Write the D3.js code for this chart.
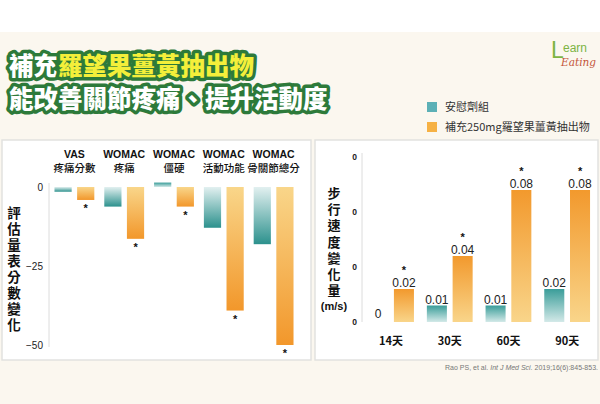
<!DOCTYPE html>
<html><head><meta charset="utf-8">
<script src="https://cdn.jsdelivr.net/npm/d3@7"></script>
<style>body{margin:0;background:#fff} svg{display:block}</style>
</head><body><svg id="c" width="600" height="404"></svg>
<script>
// ---------- data ----------
const titleWhite = "補充";
const titleYellow = "羅望果薑黃抽出物";
const titleLine2 = "能改善關節疼痛、提升活動度";
const legendLabels = ["安慰劑組", "補充250mg羅望果薑黃抽出物"];
const series = ["placebo", "treatment"];

const scoreCatTop = ["VAS", "WOMAC", "WOMAC", "WOMAC", "WOMAC"];
const scoreCatBottom = ["疼痛分數", "疼痛", "僵硬", "活動功能", "骨關節總分"];
const scorePlacebo = [-1.5, -6.2, 1.4, -12.9, -18.1];
const scoreTreatment = [-4.1, -16.4, -6.2, -39.1, -50];
const scoreTicks = [0, -25, -50];
const scoreAxisTitle = "評估量表分數變化";

const speedCats = ["14天", "30天", "60天", "90天"];
const speedPlacebo = [0, 0.01, 0.01, 0.02];
const speedTreatment = [0.02, 0.04, 0.08, 0.08];
const speedTicks = [0, 0.1 / 3, 0.2 / 3, 0.1];
const speedTickLabels = ["0", "0", "0", "0"];
const speedAxisTitle = "步行速度變化量";
const speedAxisUnit = "(m/s)";

const citationA = "Rao PS, et al. ";
const citationB = "Int J Med Sci.";
const citationC = " 2019;16(6):845-853.";

// ---------- drawing ----------
const svg = d3.select("#c");
const CJK = "'Noto Sans CJK TC','Noto Sans CJK SC',sans-serif";
const LAT = "'Liberation Sans',Arial,'Noto Sans CJK TC',sans-serif";

svg.append("rect").attr("width", 600).attr("height", 404).attr("fill", "#fbf7ef");
svg.append("rect").attr("width", 600).attr("height", 32).attr("fill", "#ffffff");

const defs = svg.append("defs");
function grad(id, c1, c2) {
  const g = defs.append("linearGradient").attr("id", id)
    .attr("x1", 0).attr("y1", 0).attr("x2", 0).attr("y2", 1);
  g.append("stop").attr("offset", "0%").attr("stop-color", c1);
  g.append("stop").attr("offset", "100%").attr("stop-color", c2);
}
grad("tealDown", "#e2f0f0", "#2c918d");
grad("tealUp", "#3a9d99", "#d3e9e8");
grad("orangeDown", "#f9d68a", "#f2972b");
grad("orangeUp", "#f2992d", "#f9d58a");

// title
const title = svg.append("g").attr("font-family", CJK).attr("font-weight", 900)
  .attr("font-size", 24.5).attr("stroke", "#2d7a3a").attr("stroke-width", 7)
  .attr("stroke-linejoin", "round").attr("paint-order", "stroke");
const t1 = title.append("text").attr("x", 9).attr("y", 75);
t1.append("tspan").attr("fill", "#ffffff").text(titleWhite);
t1.append("tspan").attr("fill", "#f4ef3a").text(titleYellow);
title.append("text").attr("x", 9).attr("y", 108).attr("fill", "#ffffff").text(titleLine2);

// logo
const logo = svg.append("g");
logo.append("text").attr("x", 551).attr("y", 58).attr("font-family", LAT)
  .attr("font-size", 23).attr("fill", "#7db443").text("L");
logo.append("text").attr("x", 563).attr("y", 52).attr("font-family", LAT)
  .attr("font-size", 12).attr("fill", "#7db443").text("earn");
logo.append("text").attr("x", 561).attr("y", 66).attr("font-family", "'DejaVu Serif',serif")
  .attr("font-style", "italic").attr("font-size", 10.5).attr("fill", "#c4553a").text("Eating");

// legend
const legColors = ["#5cb0b6", "#f6b144"];
const leg = svg.append("g");
legendLabels.forEach((l, i) => {
  leg.append("rect").attr("x", 427).attr("y", 102 + i * 20).attr("width", 10).attr("height", 10)
    .attr("fill", legColors[i]);
  leg.append("text").attr("x", 445).attr("y", 111 + i * 20).attr("font-family", CJK)
    .attr("font-size", 11).attr("fill", "#333").text(l);
});

// panels
[[2, 140, 309, 220], [315, 140, 283, 220]].forEach(p => {
  svg.append("rect").attr("x", p[0]).attr("y", p[1]).attr("width", p[2]).attr("height", p[3])
    .attr("fill", "#fff").attr("stroke", "#e2e2e0").attr("stroke-width", 1.5);
});

// ---------- left chart ----------
const L = svg.append("g");
const x0 = d3.scaleBand().domain(scoreCatBottom).range([49.5, 298.5]).paddingInner(0.2).paddingOuter(0.1);
const x1 = d3.scaleBand().domain(series).range([0, x0.bandwidth()]).paddingInner(0.24);
const yL = d3.scaleLinear().domain([-50, 0]).range([345, 187]);

L.append("line").attr("x1", 49).attr("x2", 49).attr("y1", 183).attr("y2", 347)
  .attr("stroke", "#dcdcdc").attr("stroke-width", 1);
L.append("g").attr("transform", "translate(49,0)")
  .call(d3.axisLeft(yL).tickValues(scoreTicks).tickSize(0).tickPadding(6).tickFormat(d3.format("d")))
  .call(g => g.select(".domain").remove())
  .call(g => g.selectAll("text").attr("font-family", LAT).attr("font-size", 10).attr("fill", "#222"));

const scoreData = scoreCatBottom.map((c, i) => ({ c, i, vals: [scorePlacebo[i], scoreTreatment[i]] }));
scoreData.forEach(d => {
  d.vals.forEach((v, s) => {
    const gx = x0(d.c) + x1(series[s]);
    const neg = v < 0;
    const id = (s === 0 ? "teal" : "orange") + (neg ? "Down" : "Up");
    L.append("rect").attr("x", gx).attr("width", x1.bandwidth())
      .attr("y", Math.min(yL(0), yL(v))).attr("height", Math.abs(yL(v) - yL(0)))
      .attr("fill", `url(#${id})`);
    if (s === 1) {
      L.append("text").attr("x", gx + x1.bandwidth() / 2).attr("y", yL(v) + 8)
        .attr("dominant-baseline", "central")
        .attr("text-anchor", "middle").attr("font-family", LAT).attr("font-weight", "bold")
        .attr("font-size", 11).attr("fill", "#111").text("*");
    }
  });
  const cx = x0(d.c) + x0.bandwidth() / 2;
  L.append("text").attr("x", cx).attr("y", 158).attr("text-anchor", "middle")
    .attr("font-family", LAT).attr("font-weight", "bold").attr("font-size", 10.5).attr("fill", "#111")
    .text(scoreCatTop[d.i]);
  L.append("text").attr("x", cx).attr("y", 172).attr("text-anchor", "middle")
    .attr("font-family", CJK).attr("font-weight", 500).attr("font-size", 10.5).attr("fill", "#111").text(d.c);
});
// vertical axis title (single text, stacked characters)
L.append("text").attr("x", 14).attr("y", 206.5)
  .style("writing-mode", "vertical-rl").style("letter-spacing", "2.5px")
  .attr("font-family", CJK).attr("font-weight", "bold")
  .attr("font-size", 13.5).attr("fill", "#111").text(scoreAxisTitle);

// ---------- right chart ----------
const R = svg.append("g");
const xr0 = d3.scaleBand().domain(speedCats).range([361.7, 596.5]).paddingInner(0.22).paddingOuter(0.11);
const xr1 = d3.scaleBand().domain(series).range([0, xr0.bandwidth()]).paddingInner(0.222);
const yR = d3.scaleLinear().domain([0, 0.1]).range([322, 157]);

R.append("line").attr("x1", 362).attr("x2", 362).attr("y1", 153).attr("y2", 322)
  .attr("stroke", "#dcdcdc").attr("stroke-width", 1);
R.append("g").attr("transform", "translate(362,0)")
  .call(d3.axisLeft(yR).tickValues(speedTicks).tickSize(0).tickPadding(5)
    .tickFormat((d, i) => speedTickLabels[i]))
  .call(g => g.select(".domain").remove())
  .call(g => g.selectAll("text").attr("font-family", LAT).attr("font-weight", "bold")
    .attr("font-size", 8.5).attr("fill", "#222"));

speedCats.forEach((c, i) => {
  [speedPlacebo[i], speedTreatment[i]].forEach((v, s) => {
    const gx = xr0(c) + xr1(series[s]);
    const cx = gx + xr1.bandwidth() / 2;
    R.append("rect").attr("x", gx).attr("width", xr1.bandwidth())
      .attr("y", yR(v)).attr("height", yR(0) - yR(v))
      .attr("fill", `url(#${s === 0 ? "tealUp" : "orangeUp"})`);
    R.append("text").attr("x", cx).attr("y", yR(v) - (v === 0 ? 4 : 2)).attr("text-anchor", "middle")
      .attr("font-family", LAT).attr("font-size", 12).attr("fill", "#222")
      .text(v === 0 ? "0" : v.toFixed(2));
    if (s === 1) {
      R.append("text").attr("x", cx).attr("y", yR(v) - 19.5).attr("dominant-baseline", "central")
        .attr("text-anchor", "middle")
        .attr("font-family", LAT).attr("font-weight", "bold").attr("font-size", 11)
        .attr("fill", "#111").text("*");
    }
  });
  R.append("text").attr("x", xr0(c) + xr0.bandwidth() / 2).attr("y", 345).attr("text-anchor", "middle")
    .attr("font-family", CJK).attr("font-weight", "bold").attr("font-size", 11).attr("fill", "#111").text(c);
});
R.append("text").attr("x", 334).attr("y", 186.5)
  .style("writing-mode", "vertical-rl").style("letter-spacing", "3.2px")
  .attr("font-family", CJK).attr("font-weight", "bold")
  .attr("font-size", 13).attr("fill", "#111").text(speedAxisTitle);
R.append("text").attr("x", 334).attr("y", 310).attr("text-anchor", "middle")
  .attr("font-family", LAT).attr("font-weight", "bold")
  .attr("font-size", 11).attr("fill", "#111").text(speedAxisUnit);

// citation
const cit = svg.append("text").attr("x", 598).attr("y", 370).attr("text-anchor", "end")
  .attr("font-family", LAT).attr("font-size", 7).attr("fill", "#777");
cit.append("tspan").text(citationA);
cit.append("tspan").attr("font-style", "italic").text(citationB);
cit.append("tspan").text(citationC);
</script></body></html>
